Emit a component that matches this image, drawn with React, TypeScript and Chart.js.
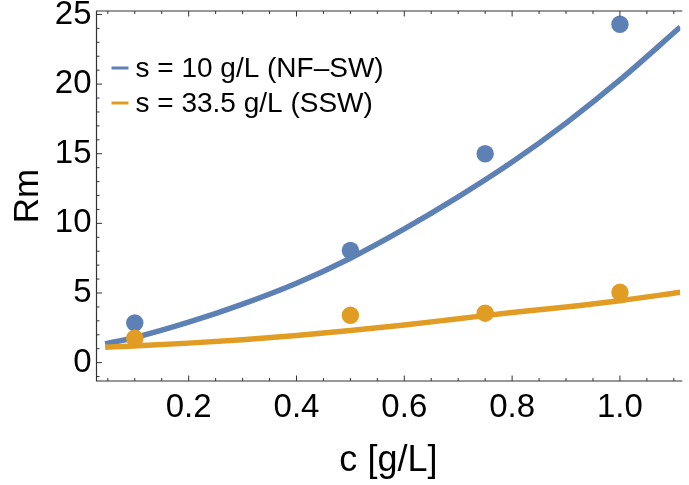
import React, { useEffect, useRef } from "react";
import { Chart, registerables } from "chart.js";

Chart.register(...registerables);

// ---- data ----
const seriesLabels = ["s = 10 g/L (NF–SW)", "s = 33.5 g/L (SSW)"];
const seriesColors = ["#5E81B5", "#E19C24"];

const measuredC = [0.1, 0.5, 0.75, 1.0];
const rmNFSW = [2.85, 8.05, 15.0, 24.3];
const rmSSW = [1.75, 3.4, 3.55, 5.05];

const fitC = [0.045, 0.1, 0.2, 0.3, 0.4, 0.5, 0.6, 0.7, 0.8, 0.9, 1.0, 1.112];
const fitNFSW = [1.35, 1.8, 2.9, 4.2, 5.7, 7.5, 9.6, 11.9, 14.4, 17.2, 20.3, 24.1];
const fitSSW = [1.1, 1.2, 1.4, 1.65, 1.95, 2.3, 2.7, 3.15, 3.6, 4.0, 4.45, 5.05];

const xTicks = [0.2, 0.4, 0.6, 0.8, 1.0];
const xMinorTicks = [0.05, 0.1, 0.15, 0.25, 0.3, 0.35, 0.45, 0.5, 0.55, 0.65, 0.7, 0.75, 0.85, 0.9, 0.95, 1.05, 1.1];
const yTicks = [0, 5, 10, 15, 20, 25];
const yMinorTicks = [-1, 1, 2, 3, 4, 6, 7, 8, 9, 11, 12, 13, 14, 16, 17, 18, 19, 21, 22, 23, 24, 25];

const xTitle = "c [g/L]";
const yTitle = "Rm";

const FONT = '"Liberation Sans", Arial, Helvetica, sans-serif';

const pts = (xs: number[], ys: number[]) => xs.map((x, i) => ({ x, y: ys[i] }));

const frameTicksPlugin = {
  id: "frameTicks",
  afterDraw(chart: any) {
    const { ctx, chartArea } = chart;
    const { left, top, right, bottom } = chartArea;
    const xs = chart.scales.x;
    const ys = chart.scales.y;
    ctx.save();
    ctx.strokeStyle = "#333333";
    ctx.lineWidth = 1.2;
    ctx.beginPath();
    ctx.moveTo(right + 2, top);
    ctx.lineTo(left, top);
    ctx.lineTo(left, bottom);
    ctx.lineTo(right + 2, bottom);
    ctx.stroke();

    const tick = (vals: number[], len: number) => {
      vals.forEach((v) => {
        const px = xs.getPixelForValue(v);
        if (px < left || px > right) return;
        ctx.beginPath();
        ctx.moveTo(px, bottom);
        ctx.lineTo(px, bottom - len);
        ctx.moveTo(px, top);
        ctx.lineTo(px, top + len);
        ctx.stroke();
      });
    };
    const ytick = (vals: number[], len: number) => {
      vals.forEach((v) => {
        const py = ys.getPixelForValue(v);
        if (py < top || py > bottom) return;
        ctx.beginPath();
        ctx.moveTo(left, py);
        ctx.lineTo(left + len, py);
        ctx.stroke();
      });
    };
    ctx.lineWidth = 1;
    tick(xMinorTicks, 3);
    tick(xTicks, 5.5);
    ytick(yMinorTicks, 3);
    ytick(yTicks, 5.5);

    // legend (fit lines only, in series order)
    const lineSets = chart.data.datasets
      .filter((d: any) => d.isFit)
      .sort((a: any, b: any) => a.seriesIndex - b.seriesIndex);
    ctx.font = `28px ${FONT}`;
    ctx.textBaseline = "middle";
    ctx.textAlign = "left";
    lineSets.forEach((d: any, i: number) => {
      const y = top + 57 + i * 35;
      ctx.strokeStyle = d.borderColor;
      ctx.lineWidth = 3;
      ctx.beginPath();
      ctx.moveTo(left + 15, y);
      ctx.lineTo(left + 32, y);
      ctx.stroke();
      ctx.fillStyle = "#000";
      ctx.fillText(d.label, left + 39, y + 1);
    });
    ctx.restore();
  },
};

export default function App() {
  const ref = useRef<HTMLCanvasElement | null>(null);

  useEffect(() => {
    if (!ref.current) return;
    const chart = new Chart(ref.current, {
      type: "scatter",
      data: {
        datasets: [
          {
            label: seriesLabels[1] + " data",
            data: pts(measuredC, rmSSW),
            backgroundColor: seriesColors[1],
            borderWidth: 0,
            pointRadius: 8.7,
            pointBorderWidth: 0,
            showLine: false,
            order: 0,
          },
          {
            label: seriesLabels[0] + " data",
            data: pts(measuredC, rmNFSW),
            backgroundColor: seriesColors[0],
            borderWidth: 0,
            pointRadius: 8.7,
            pointBorderWidth: 0,
            showLine: false,
            order: 1,
          },
          {
            label: seriesLabels[1],
            isFit: true,
            seriesIndex: 1,
            data: pts(fitC, fitSSW),
            borderColor: seriesColors[1],
            backgroundColor: seriesColors[1],
            borderWidth: 5.5,
            pointRadius: 0,
            showLine: true,
            cubicInterpolationMode: "monotone",
            order: 2,
          },
          {
            label: seriesLabels[0],
            isFit: true,
            seriesIndex: 0,
            data: pts(fitC, fitNFSW),
            borderColor: seriesColors[0],
            backgroundColor: seriesColors[0],
            borderWidth: 5.5,
            pointRadius: 0,
            showLine: true,
            cubicInterpolationMode: "monotone",
            order: 3,
          },
        ] as any,
      },
      options: {
        animation: false,
        responsive: false,
        devicePixelRatio: 1,
        layout: { padding: { top: 11, right: 0, left: 0, bottom: 0 } },
        plugins: {
          legend: { display: false },
          tooltip: { enabled: false },
        },
        scales: {
          x: {
            type: "linear",
            min: 0.029,
            max: 1.112,
            grid: { display: false, drawTicks: false },
            border: { display: false },
            afterBuildTicks: (s: any) => {
              s.ticks = xTicks.map((v) => ({ value: v }));
            },
            afterFit: (s: any) => {
              s.height = 104;
              s.paddingLeft = 0;
              s.paddingRight = 0;
            },
            ticks: {
              font: { family: FONT, size: 33 },
              color: "#000",
              padding: 7,
              maxRotation: 0,
              autoSkip: false,
              callback: (v: any) => Number(v).toFixed(1),
            },
            title: {
              display: true,
              text: xTitle,
              color: "#000",
              font: { family: FONT, size: 36 },
              padding: { top: 0, bottom: 2 },
            },
          },
          y: {
            type: "linear",
            min: -1.32,
            max: 25.25,
            grid: { display: false, drawTicks: false },
            border: { display: false },
            afterBuildTicks: (s: any) => {
              s.ticks = yTicks.map((v) => ({ value: v }));
            },
            afterFit: (s: any) => {
              s.width = 96.5;
              s.paddingTop = 0;
              s.paddingBottom = 0;
            },
            ticks: {
              font: { family: FONT, size: 33 },
              color: "#000",
              padding: 5,
              autoSkip: false,
              callback: (v: any) => String(v),
            },
            title: {
              display: true,
              text: yTitle,
              color: "#000",
              font: { family: FONT, size: 35 },
              padding: { top: 7, bottom: 0 },
            },
          },
        },
      } as any,
      plugins: [frameTicksPlugin],
    });
    return () => chart.destroy();
  }, []);

  return (
    <div style={{ position: "absolute", left: 0, top: 0, width: 689, height: 485, background: "#fff" }}>
      <canvas ref={ref} width={689} height={485} style={{ display: "block", width: 689, height: 485 }} />
    </div>
  );
}
